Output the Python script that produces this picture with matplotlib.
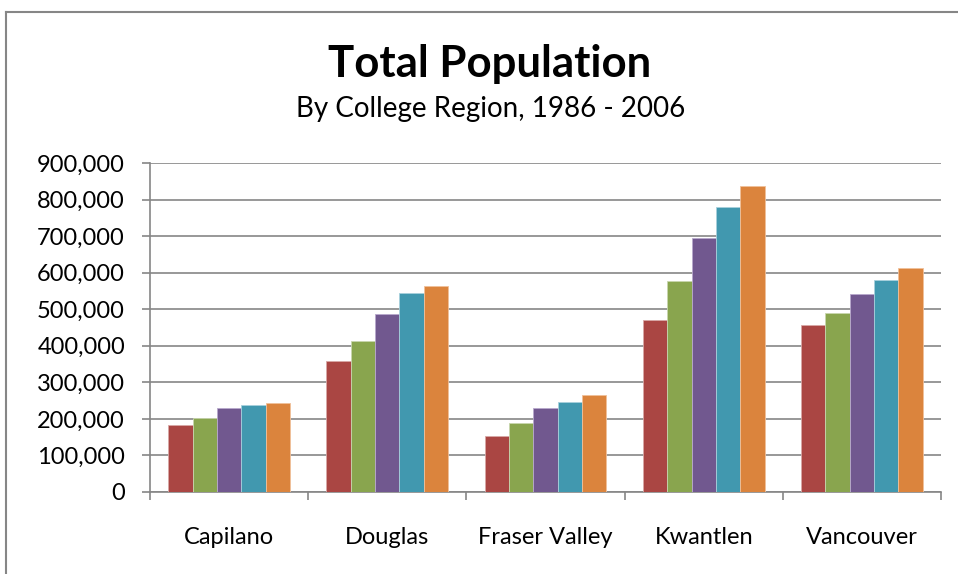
import matplotlib.pyplot as plt
import numpy as np
from matplotlib.ticker import FuncFormatter
from matplotlib.lines import Line2D

regions = ["Capilano", "Douglas", "Fraser Valley", "Kwantlen", "Vancouver"]
years = ["1986", "1991", "1996", "2001", "2006"]
pop_1986 = [183000, 358000, 153000, 470000, 458000]
pop_1991 = [202000, 412000, 189000, 578000, 490000]
pop_1996 = [229000, 488000, 230000, 695000, 543000]
pop_2001 = [238000, 544000, 247000, 780000, 580000]
pop_2006 = [243000, 563000, 265000, 837000, 612000]

series = [pop_1986, pop_1991, pop_1996, pop_2001, pop_2006]
colors = ["#AA4643", "#89A54E", "#71588F", "#4198AF", "#DB843D"]
edges = ["#d8a8a6", "#c8d6ae", "#b8a8cc", "#a8d0dc", "#f0c09a"]

plt.rcParams['font.family'] = ['Lato', 'DejaVu Sans']

fig = plt.figure(figsize=(9.58, 5.74), dpi=100)
ax = fig.add_axes([150 / 958, 1 - 492 / 574, 791 / 958, 329 / 574])

x = np.arange(len(regions))
w = 0.154
for i, vals in enumerate(series):
    ax.bar(x + (i - 2) * w, vals, w, color=colors[i], edgecolor=edges[i],
           linewidth=0.6, label=years[i], zorder=3)

ax.set_xlim(-0.5, len(regions) - 0.5)
ax.set_ylim(0, 900000)
ax.set_yticks(np.arange(0, 900001, 100000))
ax.yaxis.set_major_formatter(FuncFormatter(lambda v, p: f"{int(v):,}"))
ax.grid(axis='y', color='#868686', linewidth=1.2, zorder=0)

ax.set_xticks(x)
ax.set_xticklabels(regions)
ax.set_xticks(np.arange(-0.5, len(regions)), minor=True)
ax.tick_params(axis='x', which='major', length=0, pad=25, labelsize=17)
ax.tick_params(axis='x', which='minor', length=6, color='#868686', width=1.2)
ax.tick_params(axis='y', length=6, color='#868686', width=1.2, labelsize=17, pad=12)

for s in ['top', 'right']:
    ax.spines[s].set_visible(False)
for s in ['left', 'bottom']:
    ax.spines[s].set_color('#868686')
    ax.spines[s].set_linewidth(1.2)

fig.text(490 / 958, 1 - 64 / 574, "Total Population", ha='center', va='center',
         fontsize=31.5, fontweight='bold')
fig.text(491 / 958, 1 - 109 / 574, "By College Region, 1986 - 2006", ha='center',
         va='center', fontsize=20)

# outer chart frame
fig.add_artist(Line2D([6 / 958, 6 / 958], [0, 1 - 12 / 574], transform=fig.transFigure,
                      color='#868686', linewidth=1.5))
fig.add_artist(Line2D([6 / 958, 1], [1 - 12 / 574, 1 - 12 / 574], transform=fig.transFigure,
                      color='#868686', linewidth=1.5))

fig.savefig("out.png", dpi=100)
